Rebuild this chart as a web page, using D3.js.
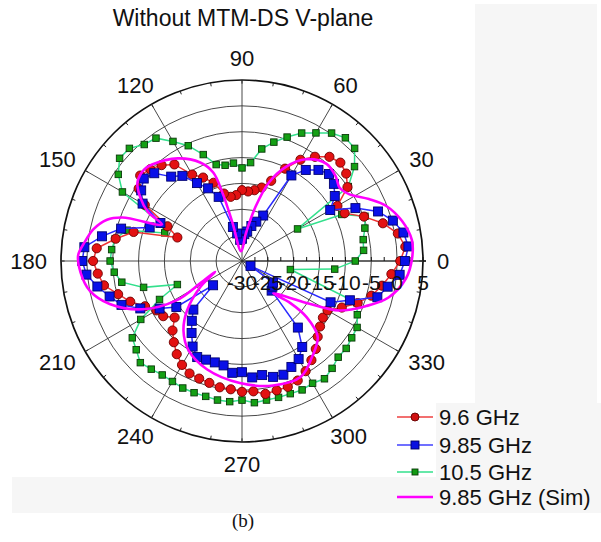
<!DOCTYPE html>
<html>
<head>
<meta charset="utf-8">
<script src="https://cdn.jsdelivr.net/npm/d3@7"></script>
<style>
  body { margin: 0; background: #fff; }
  svg { display: block; }
  text { font-family: "Liberation Sans", Arial, Helvetica, sans-serif; fill: #111; }
</style>
</head>
<body>
<svg id="chart" width="601" height="542"></svg>
<script>
// Measurement angles (degrees, counter-clockwise from 0 at the right)
const angles = [0,5,10,15,20,25,30,35,40,45,50,55,60,65,70,75,80,85,90,95,100,105,110,115,
  120,125,130,135,140,145,150,155,160,165,170,175,180,185,190,195,200,205,210,215,220,225,230,235,
  240,245,250,255,260,265,270,275,280,285,290,295,300,305,310,315,320,325,330,335,340,345,350,355];

// Normalised gain (dB) of each measured frequency
const gain96 = [0.6,1.7,0.6,-1.8,-4.9,-8.1,-8.7,-5.1,-3.7,-3.1,-3.7,-5.4,-7.4,-10.3,-13.5,-15.3,-16.1,-16.5,
  -16.3,-17.2,-17.4,-16.5,-13.9,-12.2,-10.7,-7.2,-5.8,-4.9,-4.3,-5.6,-8.3,-14.1,-16.7,-8.3,-5.2,-1.8,
  -1.2,-2.0,-2.9,-5.2,-7.0,-9.3,-10.9,-11.4,-13.0,-11.0,-9.5,-8.0,-6.8,-6.0,-5.8,-5.6,-5.2,-5.1,
  -4.7,-4.7,-3.9,-4.1,-4.1,-4.5,-5.4,-6.6,-7.8,-9.3,-10.3,-10.9,-10.9,-8.7,-6.2,-4.1,-2.5,-1.0];

const gain985 = [1.5,2.3,1.7,0.2,-2.0,-5.8,-10.3,-8.1,-6.8,-6.2,-7.0,-8.5,-10.9,-20.3,-21.9,-23.0,-24.2,-24.8,
  -25.7,-25.9,-24.6,-23.2,-16.8,-14.5,-12.6,-9.9,-8.7,-6.0,-5.2,-6.2,-7.8,-12.6,-11.0,-5.8,-2.5,0.6,
  0.9,0.2,-1.6,-3.5,-5.2,-8.3,-11.6,-14.5,-22.7,-16.7,-14.9,-13.0,-10.9,-9.5,-9.7,-9.7,-9.5,-8.3,
  -8.5,-7.4,-7.6,-6.8,-6.6,-7.4,-8.1,-9.7,-13.2,-21.9,-22.3,-22.7,-28.1,-11.1,-7.8,-2.9,-1.4,0.6];

const gain105 = [-8.1,-6.4,-6.2,-5.4,-4.7,-8.7,-17.6,-4.9,-1.6,0.8,1.1,0.2,-1.4,-2.7,-4.5,-6.2,-8.0,-10.9,
  -12.0,-11.0,-11.2,-10.7,-8.1,-5.4,-3.3,-1.0,-0.6,0.8,0.9,-0.8,-3.3,-12.6,-14.1,-7.0,-5.1,-4.7,
  -4.5,-5.2,-6.4,-10.3,-16.7,-12.4,-7.4,-4.1,-3.3,-2.2,-2.7,-3.1,-3.1,-2.9,-2.9,-2.9,-2.7,-2.7,
  -3.1,-2.5,-2.7,-2.7,-2.7,-2.5,-2.7,-2.2,-2.9,-3.7,-3.7,-4.1,-4.3,-5.4,-6.4,null,-20.5,-12.0];

// Simulated pattern at 9.85 GHz, listed in drawing order
const simAngles = [1,7,14,21,26,32,37,42,49,58,65,71,76,82,95,104,106,108,113,122,133,137,143,148,152.5,
  155.5,160,163,168,173,178,184,191,198,206,211,208,202,212,222,230,239,252,269,284,297,306,315,319,319,
  314,327,333,340,346,354];
const simGain = [2.9,3.1,1.9,-0.2,-2.7,-5.6,-6.4,-5.6,-5.1,-6.8,-9.9,-13.9,-19.2,-24.6,-28.1,-22.3,-16.3,-12.0,
  -9.3,-6.6,-4.5,-4.1,-4.7,-6.8,-9.5,-13.0,-5.4,-2.7,-0.6,0.6,1.7,1.3,0.0,-3.1,-8.7,-15.3,-20.9,-24.4,
  -20.5,-15.7,-12.4,-9.9,-8.0,-6.4,-5.2,-4.9,-7.0,-9.3,-13.4,-17.6,-21.3,-15.1,-8.9,-4.5,-0.8,1.9];

const ringTicks = [-30,-25,-20,-15,-10,-5,0,5];
const minorTicks = [-27.5,-25,-22.5,-20,-17.5,-15,-12.5,-10,-7.5,-5,-2.5,0,2.5,5];
const spokeAngles = [0,30,60,90,120,150,180,210,240,270,300,330];
const seriesNames = ["9.6 GHz", "9.85 GHz", "10.5 GHz", "9.85 GHz (Sim)"];
const titleText = "Without MTM-DS V-plane";
const captionText = "(b)";

const svg = d3.select("#chart");
const cx = 242, cy = 261, R = 181;
const rScale = d3.scaleLinear().domain([-30, 5]).range([0, R]);
const toRad = a => (90 - a) * Math.PI / 180;   // d3 radial angle: clockwise from 12 o'clock
const px = (a, v) => rScale(v) * Math.sin(toRad(a));
const py = (a, v) => -rScale(v) * Math.cos(toRad(a));

// light panels behind the legend region
const panelFill = "#f6f6f6";
svg.append("rect").attr("x", 475).attr("y", 4).attr("width", 122).attr("height", 400).attr("fill", panelFill);
svg.append("rect").attr("x", 436).attr("y", 403).attr("width", 165).attr("height", 75).attr("fill", panelFill);
svg.append("rect").attr("x", 12).attr("y", 477).attr("width", 589).attr("height", 36).attr("fill", panelFill);

// title
svg.append("text").attr("x", 243).attr("y", 26).attr("text-anchor", "middle")
  .style("font-size", "23px").text(titleText);

const g = svg.append("g").attr("transform", `translate(${cx},${cy})`);

// grid rings
g.selectAll("circle.ring").data(ringTicks.slice(1)).enter().append("circle")
  .attr("class", "ring").attr("r", d => rScale(d))
  .attr("fill", "none")
  .attr("stroke", d => d === 5 ? "#111" : "#333")
  .attr("stroke-width", d => d === 5 ? 1.7 : 0.9);

// spokes
g.selectAll("line.spoke").data(spokeAngles).enter().append("line")
  .attr("x1", 0).attr("y1", 0)
  .attr("x2", d => px(d, 5)).attr("y2", d => py(d, 5))
  .attr("stroke", "#333").attr("stroke-width", d => d === 0 ? 1.7 : 0.9);

// small ticks on the outer ring
const outerTicks = d3.range(0, 360, 10);
g.selectAll("line.otick").data(outerTicks).enter().append("line")
  .attr("x1", d => px(d, 5)).attr("y1", d => py(d, 5))
  .attr("x2", d => px(d, 4.3)).attr("y2", d => py(d, 4.3))
  .attr("stroke", "#222").attr("stroke-width", 1);

// ticks along the radial axis
g.selectAll("line.rtick").data(minorTicks).enter().append("line")
  .attr("x1", d => rScale(d)).attr("x2", d => rScale(d))
  .attr("y1", 0).attr("y2", -4)
  .attr("stroke", "#111").attr("stroke-width", 1);
g.append("line").attr("x1", rScale(5)).attr("x2", rScale(5) + 3).attr("y1", 0).attr("y2", 0)
  .attr("stroke", "#111").attr("stroke-width", 1.7);

// angle labels
const labR = 195;
svg.append("g").selectAll("text").data(spokeAngles).enter().append("text")
  .style("font-size", "22px")
  .attr("text-anchor", "middle")
  .attr("dominant-baseline", "central")
  .attr("x", d => {
    const w = String(d).length * 12.2;
    const c = Math.cos(d * Math.PI / 180);
    return cx + (labR) * c + c * w / 2;
  })
  .attr("y", d => {
    const s = Math.sin(d * Math.PI / 180);
    return cy - labR * s - s * 8;
  })
  .text(d => d);

// measured series
const line = d3.lineRadial()
  .angle(d => toRad(d[0]))
  .radius(d => rScale(d[1]))
  .curve(d3.curveLinearClosed);

function pairs(values) {
  return angles.map((a, i) => [a, values[i]]).filter(d => d[1] !== null);
}

const series = [
  { values: gain105, line: "#33e08c", fill: "#14a014", stroke: "#0a3a0a", shape: "square", size: 6.5 },
  { values: gain96, line: "#ee3333", fill: "#e31212", stroke: "#6e0000", shape: "circle", size: 4.6 },
  { values: gain985, line: "#2a2aff", fill: "#0a10e8", stroke: "#000070", shape: "square", size: 9 }
];

series.forEach(s => {
  const pts = pairs(s.values);
  g.append("path").datum(pts).attr("d", line)
    .attr("fill", "none").attr("stroke", s.line).attr("stroke-width", 1.5);
  const mg = g.append("g");
  if (s.shape === "circle") {
    mg.selectAll("circle").data(pts).enter().append("circle")
      .attr("cx", d => px(d[0], d[1])).attr("cy", d => py(d[0], d[1]))
      .attr("r", s.size).attr("fill", s.fill).attr("stroke", s.stroke).attr("stroke-width", 0.9);
  } else {
    mg.selectAll("rect").data(pts).enter().append("rect")
      .attr("x", d => px(d[0], d[1]) - s.size / 2).attr("y", d => py(d[0], d[1]) - s.size / 2)
      .attr("width", s.size).attr("height", s.size)
      .attr("fill", s.fill).attr("stroke", s.stroke).attr("stroke-width", 0.9);
  }
});

// simulated pattern
const simPts = simAngles.map((a, i) => [a, simGain[i]]);
g.append("path").datum(simPts)
  .attr("d", d3.lineRadial().angle(d => toRad(d[0])).radius(d => rScale(d[1]))
    .curve(d3.curveCatmullRomClosed.alpha(0.5)))
  .attr("fill", "none").attr("stroke", "#ff00ff").attr("stroke-width", 2.6);

// radial axis labels
g.selectAll("text.rlab").data(ringTicks).enter().append("text")
  .attr("x", d => rScale(d)).attr("y", 29)
  .attr("text-anchor", "middle")
  .style("font-size", "21px")
  .text(d => d);

// legend
const legendY = [417, 445, 472, 497];
const lg = svg.append("g");
const legendStyles = [
  { line: "#ee4040", fill: "#d01010", stroke: "#600000", shape: "circle", size: 4 },
  { line: "#4040ff", fill: "#0a10e0", stroke: "#000060", shape: "square", size: 8 },
  { line: "#33e08c", fill: "#129a12", stroke: "#0a3a0a", shape: "square", size: 6 },
  { line: "#ff00ff", shape: "none" }
];
seriesNames.forEach((name, i) => {
  const y = legendY[i], st = legendStyles[i];
  lg.append("line").attr("x1", 397).attr("x2", 433).attr("y1", y).attr("y2", y)
    .attr("stroke", st.line).attr("stroke-width", st.shape === "none" ? 2.6 : 1.5);
  if (st.shape === "circle") {
    lg.append("circle").attr("cx", 415).attr("cy", y).attr("r", st.size)
      .attr("fill", st.fill).attr("stroke", st.stroke).attr("stroke-width", 0.9);
  } else if (st.shape === "square") {
    lg.append("rect").attr("x", 415 - st.size / 2).attr("y", y - st.size / 2)
      .attr("width", st.size).attr("height", st.size)
      .attr("fill", st.fill).attr("stroke", st.stroke).attr("stroke-width", 0.9);
  }
  lg.append("text").attr("x", 439).attr("y", y).attr("dominant-baseline", "central")
    .style("font-size", "22px").text(name);
});

// caption
svg.append("text").attr("x", 243).attr("y", 527).attr("text-anchor", "middle")
  .style("font-family", "'Liberation Serif', 'Times New Roman', serif")
  .style("font-size", "19px").text(captionText);
</script>
</body>
</html>
